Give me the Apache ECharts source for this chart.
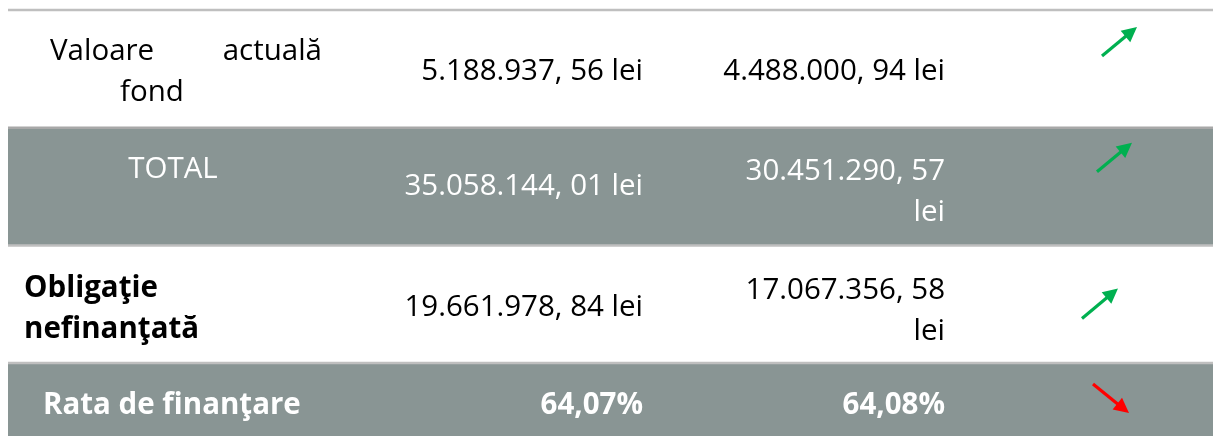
<!DOCTYPE html>
<html>
<head>
<meta charset="utf-8">
<script src="https://cdn.jsdelivr.net/npm/echarts@6/dist/echarts.min.js"></script>
<style>
html,body{margin:0;padding:0;background:#fff;}
#chart{width:1213px;height:436px;}
</style>
</head>
<body>
<div id="chart"></div>
<script>
// ---- data ----
const rowLabels = [["Valoare actuală", "fond"], ["TOTAL"], ["Obligaţie", "nefinanţată"], ["Rata de finanţare"]];
const valuesCurrent = ["5.188.937, 56 lei", "35.058.144, 01 lei", "19.661.978, 84 lei", "64,07%"];
const valuesPrevious = ["4.488.000, 94 lei", "30.451.290, 57\nlei", "17.067.356, 58\nlei", "64,08%"];
const trend = ["up", "up", "up", "down"];

// ---- layout constants (pixels within a row) ----
const FONT = '"Open Sans", "Noto Sans", sans-serif';
const FS = 29.5;
const LINE_H = 41;
const SHADE = '#899594';
const BORDER = '#bfbfbf';
const TABLE_LEFT = 8;
const COL_CUR_RIGHT = 643;
const COL_PREV_RIGHT = 945;
const ROW_H = 117.7;
// label first-line offset and value offsets from row top
const labelTop = [42, 42, 43, 42];
const valueSingle = [62, 59, 62, 42];
const valueDoubleTop = [44, 44, 45, 42];
// arrow tail/tip offsets [x0, y0, x1, y1] relative to row top
const arrowGeom = [
  [1102, 46, 1137, 17],
  [1097, 44, 1132, 15],
  [1082, 73, 1118, 43],
  [1093, 21, 1129, 50]
];

function arrowShapes(x0, y0, x1, y1, color) {
  const dx = x1 - x0, dy = y1 - y0;
  const len = Math.sqrt(dx * dx + dy * dy);
  const ux = dx / len, uy = dy / len;
  const headL = 15, headW = 7.5;
  const bx = x1 - ux * headL, by = y1 - uy * headL;
  const px = -uy, py = ux;
  return [
    { type: 'line', shape: { x1: x0, y1: y0, x2: bx + ux * 2, y2: by + uy * 2 }, style: { stroke: color, lineWidth: 3.2 } },
    { type: 'polygon', shape: { points: [[x1, y1], [bx + px * headW, by + py * headW], [bx - px * headW, by - py * headW]] }, style: { fill: color } }
  ];
}

function renderItem(params, api) {
  const i = api.value(0);
  const top = api.coord([0, i])[1];
  const h = api.coord([0, i + 1])[1] - top;
  const left = api.coord([TABLE_LEFT, i])[0];
  const right = api.coord([1213, i])[0];
  const shaded = i % 2 === 1;
  const color = shaded ? '#ffffff' : '#000000';
  const children = [];
  children.push({ type: 'rect', shape: { x: left, y: top, width: right - left, height: h }, style: { fill: shaded ? SHADE : '#ffffff' } });
  children.push({ type: 'line', shape: { x1: left, y1: top, x2: right, y2: top }, style: { stroke: i === 1 ? '#a8a8a8' : BORDER, lineWidth: 2.5 } });

  const txt = (s, x, y, align, b) => ({
    type: 'text',
    style: { text: s, x: x, y: y, align: align, verticalAlign: 'middle', fill: color,
      font: (b ? 'bold ' : '') + FS + 'px ' + FONT }
  });
  const lab = rowLabels[i];
  if (i === 0) {
    const parts = lab[0].split(' ');
    children.push(txt(parts[0], 50, top + labelTop[i], 'left', false));
    children.push(txt(parts[1], 322, top + labelTop[i], 'right', false));
    children.push(txt(lab[1], 152, top + labelTop[i] + LINE_H, 'center', false));
  } else if (i === 1) {
    children.push(txt(lab[0], 173, top + labelTop[i], 'center', false));
  } else if (i === 2) {
    lab.forEach((s, k) => children.push(txt(s, 24, top + labelTop[i] + k * LINE_H, 'left', true)));
  } else {
    children.push(txt(lab[0], 43, top + labelTop[i], 'left', true));
  }
  const cellText = (s, xr) => {
    const lines = s.split('\n');
    if (lines.length === 1) {
      children.push(txt(s, xr, top + valueSingle[i], 'right', i === 3));
    } else {
      lines.forEach((l, k) => children.push(txt(l, xr, top + valueDoubleTop[i] + k * LINE_H, 'right', i === 3)));
    }
  };
  cellText(valuesCurrent[i], COL_CUR_RIGHT);
  cellText(valuesPrevious[i], COL_PREV_RIGHT);

  const g = arrowGeom[i];
  const ac = trend[i] === 'up' ? '#00b050' : '#ff0000';
  arrowShapes(g[0], top + g[1], g[2], top + g[3], ac).forEach(s => children.push(s));
  return { type: 'group', children: children };
}

const chart = echarts.init(document.getElementById('chart'), null, { renderer: 'canvas' });
chart.setOption({
  animation: false,
  backgroundColor: '#ffffff',
  grid: { left: 0, right: 0, top: 10, bottom: 0, containLabel: false },
  xAxis: { type: 'value', min: 0, max: 1213, show: false },
  yAxis: { type: 'value', min: 0, max: 426 / ROW_H, inverse: true, show: false },
  series: [{
    type: 'custom',
    renderItem: renderItem,
    clip: false,
    encode: { y: 0 },
    data: rowLabels.map((_, i) => [i])
  }]
});
</script>
</body>
</html>
